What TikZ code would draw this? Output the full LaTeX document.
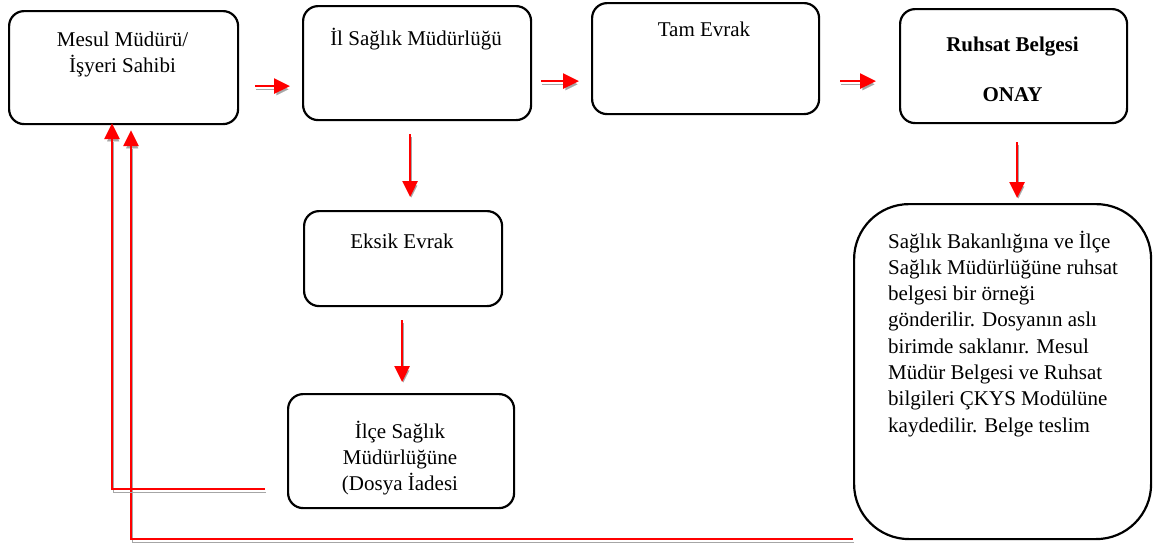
\documentclass[tikz,border=0pt]{standalone}
\usepackage{fontspec}
\setmainfont{Liberation Serif}
\usetikzlibrary{arrows.meta}

\tikzset{
  box/.style={draw=black, line width=2.2pt, rounded corners=15pt, inner sep=0pt,
              anchor=north west, fill=white},
  txt/.style={inner sep=0pt, font=\fontsize{21}{26.3}\selectfont},
  redarr/.style={draw=red, line width=2.6pt,
    -{Triangle[length=16pt,width=15pt]},
    preaction={draw=black!35, transform canvas={shift={(1.2pt,-3.2pt)}}}},
}

\begin{document}
\begin{tikzpicture}[x=1pt,y=-1pt]
\useasboundingbox (0,0) rectangle (1154,544);

% boxes
\node[box, minimum width=229pt, minimum height=113pt] (b1) at (8,10) {};
\node[box, minimum width=228pt, minimum height=114pt] (b2) at (302,5) {};
\node[box, minimum width=227pt, minimum height=111pt] (b3) at (591,2) {};
\node[box, minimum width=227pt, minimum height=114pt] (b4) at (899,8) {};
\node[box, minimum width=198pt, minimum height=95pt] (b5) at (303,210) {};
\node[box, minimum width=226pt, minimum height=114pt] (b6) at (287,393) {};
\node[box, minimum width=297pt, minimum height=335pt, rounded corners=55pt] (b7) at (853,203) {};

% texts
\node[txt, anchor=base] (t1) at (122.5,46)
  {\begin{tabular}[t]{@{}c@{}}Mesul Müdürü/\\İşyeri Sahibi\end{tabular}};
\node[txt, anchor=base] (t2) at (416,45) {İl Sağlık Müdürlüğü};
\node[txt, anchor=base] (t3) at (704,36) {Tam Evrak};
\node[txt, anchor=base, font=\fontsize{21}{26.3}\selectfont\bfseries] (t4a) at (1012.5,51) {Ruhsat Belgesi};
\node[txt, anchor=base, font=\fontsize{21}{26.3}\selectfont\bfseries] (t4b) at (1012.5,101) {ONAY};
\node[txt, anchor=base] (t5) at (402,248) {Eksik Evrak};
\node[txt, anchor=base] (t6) at (400,438)
  {\begin{tabular}[t]{@{}c@{}}İlçe Sağlık\\Müdürlüğüne\\(Dosya İadesi\end{tabular}};
\node[txt, anchor=base west] (t7) at (888,248)
  {\begin{tabular}[t]{@{}l@{}}Sağlık Bakanlığına ve İlçe\\
   Sağlık Müdürlüğüne ruhsat\\
   belgesi bir örneği\\
   gönderilir. Dosyanın aslı\\
   birimde saklanır. Mesul\\
   Müdür Belgesi ve Ruhsat\\
   bilgileri ÇKYS Modülüne\\
   kaydedilir. Belge teslim\end{tabular}};

% free ends of the return lines
\coordinate (r1s) at (265,489);
\coordinate (r2s) at (853,539);

% forward arrows
\draw[redarr] ([shift={(16pt,-18.5pt)}]b1.east) -- ([shift={(-12pt,-18.5pt)}]b2.west |- b1.east);
\draw[redarr] ([shift={(9pt,-18pt)}]b2.east) -- ([shift={(-12pt,-22.5pt)}]b3.west);
\draw[redarr] ([shift={(20pt,-22.5pt)}]b3.east) -- ([shift={(-23pt,-15pt)}]b4.west);
\draw[redarr] ([shift={(-7pt,-13pt)}]b2.south) -- ([shift={(7pt,13pt)}]b5.north);
\draw[redarr] ([shift={(-1pt,-13pt)}]b5.south) -- ([shift={(1pt,11pt)}]b6.north);
\draw[redarr] ([shift={(3.5pt,-18pt)}]b4.south) -- ([shift={(14.5pt,5pt)}]b7.north);

% return lines
\draw[redarr] (r2s) -| ([shift={(123pt,-5pt)}]b1.south west);
\draw[redarr] (r1s) -| ([shift={(104pt,2pt)}]b1.south west);
\end{tikzpicture}
\end{document}
